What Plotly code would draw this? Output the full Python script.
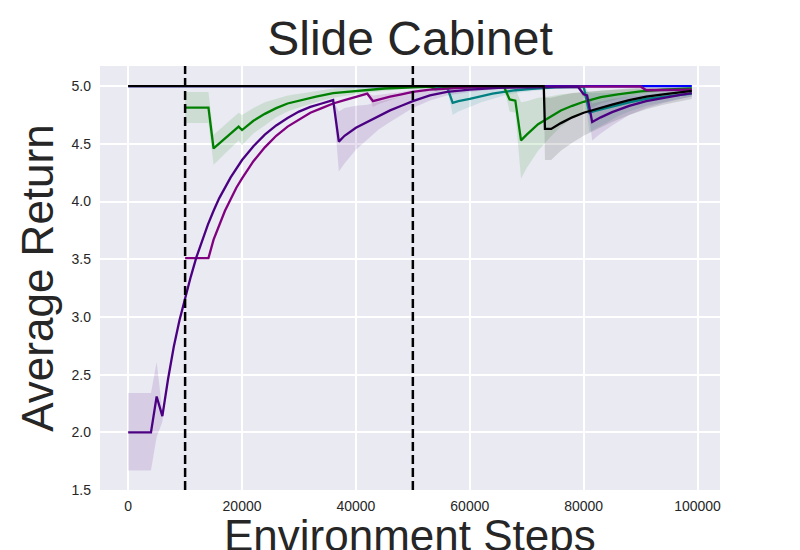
import plotly.graph_objects as go

# ---------------- data (x = environment steps) ----------------
phase_boundaries = [10000, 50000]

# blue run (constant optimum)
steps_blue = [0, 99000]
mean_blue = [5.0, 5.0]

# indigo run
steps_indigo = [0, 4000, 5000, 6000, 7000, 8000, 9000, 10000, 11000, 12000, 13000, 14000,
                15000, 16000, 18000, 20000, 22000, 24000, 26000, 28000, 30000, 32000,
                34000, 36000, 37000, 38000, 40000, 42000, 44000, 46000, 48000, 50000,
                53000, 56000, 60000, 65000, 70000, 75000, 79000, 80000, 80600, 81500,
                83000, 85000, 88000, 91000, 94000, 97000, 99000]
mean_indigo = [2.0, 2.0, 2.31, 2.14, 2.46, 2.74, 2.97, 3.17, 3.35, 3.52, 3.665, 3.80,
               3.92, 4.03, 4.21, 4.36, 4.48, 4.58, 4.66, 4.725, 4.78, 4.82,
               4.85, 4.88, 4.52, 4.57, 4.64, 4.69, 4.745, 4.79, 4.83, 4.87,
               4.92, 4.95, 4.97, 4.985, 4.99, 4.995, 4.995, 4.93, 4.92, 4.69,
               4.73, 4.775, 4.83, 4.87, 4.90, 4.925, 4.94]
lower_indigo = [1.67, 1.67, 1.96, 2.09, 2.46, 2.74, 2.97, 3.17, 3.35, 3.52, 3.665, 3.80,
                3.92, 4.03, 4.21, 4.36, 4.48, 4.58, 4.66, 4.725, 4.78, 4.82,
                4.85, 4.88, 4.26, 4.33, 4.45, 4.54, 4.625, 4.69, 4.75, 4.81,
                4.875, 4.92, 4.95, 4.975, 4.985, 4.99, 4.99, 4.90, 4.89, 4.53,
                4.59, 4.66, 4.75, 4.81, 4.855, 4.89, 4.91]
upper_indigo = [2.34, 2.34, 2.61, 2.19, 2.46, 2.74, 2.97, 3.17, 3.35, 3.52, 3.665, 3.80,
                3.92, 4.03, 4.21, 4.36, 4.48, 4.58, 4.66, 4.725, 4.78, 4.82,
                4.85, 4.88, 4.78, 4.81, 4.83, 4.84, 4.865, 4.89, 4.91, 4.93,
                4.965, 4.98, 4.99, 4.995, 4.995, 5.0, 5.0, 4.96, 4.95, 4.85,
                4.87, 4.89, 4.91, 4.93, 4.945, 4.96, 4.97]

# purple run
steps_purple = [10000, 14100, 15000, 16000, 17000, 18000, 19000, 20000, 22000, 24000,
                26000, 28000, 30000, 32000, 34000, 36000, 38000, 40000, 42000, 43000,
                44000, 46000, 48000, 50000, 53000, 56000, 60000, 70000, 80000, 90000,
                91000, 95000, 99000]
mean_purple = [3.51, 3.51, 3.67, 3.80, 3.92, 4.02, 4.12, 4.20, 4.35, 4.47,
               4.57, 4.65, 4.71, 4.77, 4.81, 4.85, 4.88, 4.91, 4.935, 4.87,
               4.885, 4.91, 4.93, 4.95, 4.97, 4.98, 4.99, 4.995, 4.998, 4.998,
               4.965, 4.968, 4.97]
lower_purple = [3.51, 3.51, 3.67, 3.80, 3.92, 4.02, 4.12, 4.20, 4.35, 4.47,
                4.57, 4.65, 4.71, 4.77, 4.81, 4.85, 4.88, 4.91, 4.93, 4.82,
                4.845, 4.88, 4.91, 4.93, 4.96, 4.975, 4.985, 4.99, 4.995, 4.995,
                4.945, 4.955, 4.96]
upper_purple = [3.51, 3.51, 3.67, 3.80, 3.92, 4.02, 4.12, 4.20, 4.35, 4.47,
                4.57, 4.65, 4.71, 4.77, 4.81, 4.85, 4.88, 4.91, 4.94, 4.92,
                4.925, 4.94, 4.95, 4.97, 4.98, 4.985, 4.995, 5.0, 5.0, 5.0,
                4.985, 4.98, 4.98]

# green run
steps_green = [10000, 14100, 15000, 19400, 20000, 21000, 22000, 24000, 26000, 28000,
               30000, 33000, 36000, 40000, 45000, 50000, 53000, 54000, 56000, 60000,
               66000, 67000, 68000, 69000, 70000, 72000, 74000, 76000, 78000, 80000,
               83000, 86000, 90000, 94000, 99000]
mean_green = [4.815, 4.815, 4.46, 4.65, 4.62, 4.66, 4.70, 4.76, 4.81, 4.85,
              4.875, 4.91, 4.94, 4.96, 4.98, 4.99, 4.995, 4.975, 4.985, 4.99,
              4.995, 4.885, 4.875, 4.53, 4.58, 4.67, 4.73, 4.79, 4.83, 4.865,
              4.905, 4.93, 4.955, 4.97, 4.98]
lower_green = [4.68, 4.68, 4.32, 4.53, 4.49, 4.54, 4.59, 4.66, 4.73, 4.78,
               4.815, 4.86, 4.90, 4.93, 4.96, 4.98, 4.99, 4.95, 4.97, 4.98,
               4.99, 4.78, 4.77, 4.20, 4.29, 4.44, 4.55, 4.65, 4.72, 4.78,
               4.85, 4.89, 4.93, 4.955, 4.975]
upper_green = [4.95, 4.95, 4.58, 4.77, 4.75, 4.78, 4.81, 4.86, 4.89, 4.92,
               4.935, 4.96, 4.98, 4.99, 5.0, 5.0, 5.0, 5.0, 5.0, 5.0,
               5.0, 4.99, 4.98, 4.86, 4.87, 4.90, 4.91, 4.93, 4.94, 4.95,
               4.96, 4.97, 4.98, 4.985, 4.99]

# teal run
steps_teal = [50000, 56000, 57000, 58000, 60000, 62000, 64000, 66000, 68000, 71000,
              75000, 80000, 81000, 82000, 84000, 86000, 88000, 91000, 94000, 97000, 99000]
mean_teal = [5.0, 4.995, 4.855, 4.87, 4.89, 4.915, 4.935, 4.95, 4.965, 4.978,
             4.99, 4.995, 4.77, 4.786, 4.81, 4.84, 4.86, 4.89, 4.91, 4.925, 4.935]
lower_teal = [5.0, 4.99, 4.75, 4.78, 4.82, 4.86, 4.89, 4.92, 4.94, 4.96,
              4.98, 4.99, 4.60, 4.63, 4.68, 4.74, 4.78, 4.83, 4.86, 4.89, 4.91]
upper_teal = [5.0, 5.0, 4.96, 4.96, 4.96, 4.97, 4.98, 4.98, 4.99, 4.995,
              5.0, 5.0, 4.94, 4.94, 4.94, 4.94, 4.94, 4.95, 4.96, 4.96, 4.96]

# black run
steps_black = [0, 73000, 73200, 74300, 76000, 78000, 80000, 82000, 85000, 88000,
               91000, 94000, 97000, 99000]
mean_black = [5.0, 5.0, 4.63, 4.63, 4.68, 4.73, 4.77, 4.80, 4.84, 4.88,
              4.91, 4.93, 4.95, 4.96]
lower_black = [5.0, 5.0, 4.36, 4.36, 4.44, 4.51, 4.57, 4.62, 4.69, 4.75,
               4.80, 4.84, 4.87, 4.89]
upper_black = [5.0, 5.0, 4.90, 4.90, 4.92, 4.94, 4.95, 4.96, 4.97, 4.98,
               4.99, 4.99, 5.0, 5.0]

y_ticks = [1.5, 2.0, 2.5, 3.0, 3.5, 4.0, 4.5, 5.0]
x_ticks = [0, 20000, 40000, 60000, 80000, 100000]

# ---------------- figure ----------------
series = [
    ("blue", (0, 0, 255), steps_blue, mean_blue, None, None),
    ("teal", (0, 128, 128), steps_teal, mean_teal, lower_teal, upper_teal),
    ("green", (0, 128, 0), steps_green, mean_green, lower_green, upper_green),
    ("purple", (128, 0, 128), steps_purple, mean_purple, lower_purple, upper_purple),
    ("indigo", (75, 0, 130), steps_indigo, mean_indigo, lower_indigo, upper_indigo),
    ("black", (0, 0, 0), steps_black, mean_black, lower_black, upper_black),
]

fig = go.Figure()

# shaded bands first
for name, (r, g, b), xs, m, lo, hi in series:
    if lo is None:
        continue
    fill = f"rgba({r},{g},{b},0.12)"
    fig.add_trace(go.Scatter(x=xs, y=hi, mode="lines", line=dict(width=0),
                             hoverinfo="skip", showlegend=False))
    fig.add_trace(go.Scatter(x=xs, y=lo, mode="lines", line=dict(width=0),
                             fill="tonexty", fillcolor=fill,
                             hoverinfo="skip", showlegend=False))

# mean lines on top
for name, (r, g, b), xs, m, lo, hi in series:
    fig.add_trace(go.Scatter(x=xs, y=m, mode="lines", name=name,
                             line=dict(color=f"rgb({r},{g},{b})", width=2.3),
                             showlegend=False))

for xb in phase_boundaries:
    fig.add_shape(type="line", xref="x", yref="paper", x0=xb, x1=xb, y0=0, y1=1,
                  line=dict(color="black", width=2.5, dash="9px,4px"), layer="above")

txt = "#262626"
fig.update_layout(
    width=800, height=550,
    margin=dict(l=100, r=80, t=66, b=60, autoexpand=False),
    paper_bgcolor="white", plot_bgcolor="#EAEAF2",
    font=dict(family="Liberation Sans, Arial, sans-serif", color=txt, size=14),
    title=dict(text="Slide Cabinet", x=0.5125, xanchor="center", y=0.93, yanchor="middle",
               yref="container", font=dict(size=48, color=txt)),
    showlegend=False,
)
# x-axis title placed as an annotation below the tick labels
fig.add_annotation(text="Environment Steps", xref="paper", yref="paper",
                   x=0.5, y=-0.045, xanchor="center", yanchor="top", showarrow=False,
                   font=dict(size=44, color=txt))
fig.update_xaxes(range=[-4950, 103950], tickvals=x_ticks, tickformat="d",
                 showgrid=True, gridcolor="white", gridwidth=1.5, zeroline=False,
                 showline=False, ticks="", ticklabelstandoff=6, automargin=False,
                 tickfont=dict(size=14, color=txt))
fig.update_yaxes(range=[1.5, 5.175], tickvals=y_ticks, tickformat=".1f",
                 showgrid=True, gridcolor="white", gridwidth=1.5, zeroline=False,
                 showline=False, ticks="", ticklabelstandoff=8, automargin=False,
                 tickfont=dict(size=14, color=txt),
                 title=dict(text="Average Return", font=dict(size=44, color=txt), standoff=4))

fig.write_html("out.html", config={"displayModeBar": False},
               post_script="document.body.style.margin='0px';document.body.style.overflow='hidden';")
